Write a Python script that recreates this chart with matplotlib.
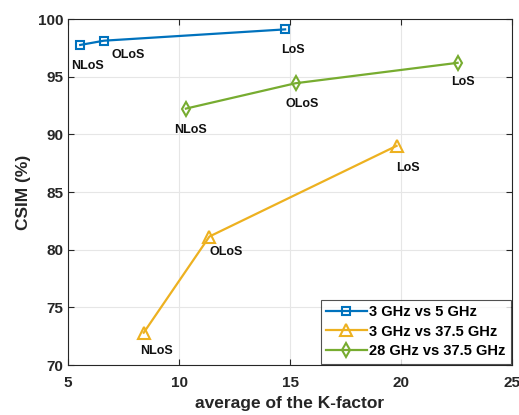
import matplotlib
matplotlib.use('Agg')
import matplotlib.pyplot as plt

plt.rcParams['font.family'] = ['Liberation Sans', 'DejaVu Sans']
plt.rcParams['font.weight'] = 'bold'

# 數據
k_5g = [5.55, 6.62, 14.78]
csim_5g = [97.75, 98.12, 99.1]
k_375 = [8.41, 11.37, 19.8]
csim_375 = [72.8, 81.14, 89.0]
k_28 = [10.31, 15.25, 22.55]
csim_28 = [92.23, 94.43, 96.2]
cond = ['NLoS', 'OLoS', 'LoS']

# 標籤偏移（像素）
off_5g = [(7, -21), (24, -14), (8, -21)]
off_375 = [(13, -18), (17, -15), (11, -22)]
off_28 = [(5, -21), (7, -21), (5, -19)]

fig = plt.figure(figsize=(5.19, 4.15), dpi=100)
ax = fig.add_axes([68 / 519, 1 - 365 / 415, (512 - 68) / 519, (365 - 19) / 415])

series = [
    (k_5g, csim_5g, '#0072BD', 's', 5.5, '3 GHz vs 5 GHz', off_5g),
    (k_375, csim_375, '#EDB120', '^', 8, '3 GHz vs 37.5 GHz', off_375),
    (k_28, csim_28, '#77AC30', 'd', 7, '28 GHz vs 37.5 GHz', off_28),
]
for xs, ys, c, m, ms, lab, offs in series:
    ax.plot(xs, ys, color=c, marker=m, lw=1.6, ms=ms, mfc='none', mew=1.5, label=lab)
    for xv, yv, t, o in zip(xs, ys, cond, offs):
        ax.annotate(t, (xv, yv), xytext=o, textcoords='offset pixels',
                    ha='center', va='center', fontsize=9, fontweight='bold', color='#111111')

ax.set_xlim(5, 25)
ax.set_ylim(70, 100)
ax.set_xticks([5, 10, 15, 20, 25])
ax.set_yticks([70, 75, 80, 85, 90, 95, 100])
ax.grid(True, color='#e6e6e6', lw=0.8)
ax.set_axisbelow(True)
ax.tick_params(direction='in', top=True, right=True, labelsize=11, colors='#262626',
               length=4, width=0.8)
ax.tick_params(axis='x', pad=8)
for s in ax.spines.values():
    s.set_color('#262626')
    s.set_linewidth(0.8)
for lbl in ax.get_xticklabels() + ax.get_yticklabels():
    lbl.set_fontweight('bold')

ax.set_xlabel('average of the K-factor', fontsize=12.5, fontweight='bold', color='#262626', labelpad=4)
ax.set_ylabel('CSIM (%)', fontsize=12.5, fontweight='bold', color='#262626', labelpad=5)

leg = ax.legend(loc='lower right', fontsize=10.5, frameon=True, fancybox=False,
                edgecolor='#262626', borderaxespad=0.1, handlelength=2.8,
                handletextpad=0.15, borderpad=0.35, labelspacing=0.4)
leg.get_frame().set_linewidth(0.8)
for t in leg.get_texts():
    t.set_fontweight('bold')

fig.savefig('out.png', dpi=100)
